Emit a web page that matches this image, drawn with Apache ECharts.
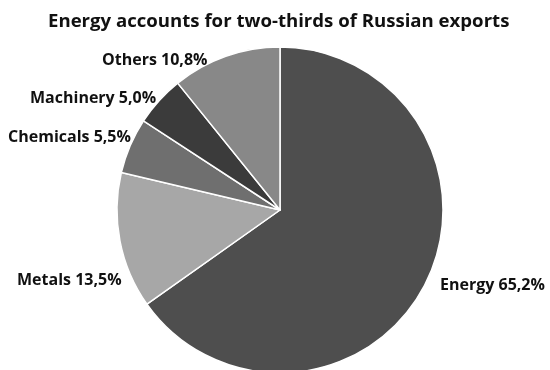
<!DOCTYPE html>
<html>
<head>
<meta charset="utf-8">
<script src="https://cdn.jsdelivr.net/npm/echarts@6/dist/echarts.min.js"></script>
<style>
  html, body { margin: 0; padding: 0; background: #fff; }
  #chart { width: 550px; height: 370px; }
</style>
</head>
<body>
<div id="chart"></div>
<script>
// Russian export structure, share of total (%)
const categories = ['Energy', 'Metals', 'Chemicals', 'Machinery', 'Others'];
const shares = [65.2, 13.5, 5.5, 5.0, 10.8];

// Slice fills and label anchors, in the same order as categories
const sliceColors = ['#4e4e4e', '#a7a7a7', '#6f6f6f', '#3b3b3b', '#888888'];
const labelAnchors = [
  { x: 440, y: 285 },
  { x: 17, y: 280 },
  { x: 8, y: 137 },
  { x: 30, y: 98 },
  { x: 102, y: 60 }
];

const fmt = v => v.toFixed(1).replace('.', ',');

const chart = echarts.init(document.getElementById('chart'), null, { renderer: 'canvas' });
chart.setOption({
  animation: false,
  title: {
    text: 'Energy accounts for two-thirds of Russian exports',
    left: 43,
    top: 7,
    textStyle: {
      fontFamily: 'Open Sans',
      fontWeight: 'bold',
      fontSize: 18.6,
      color: '#111'
    }
  },
  series: [{
    type: 'pie',
    center: [280, 210],
    radius: 163,
    startAngle: 90,
    clockwise: true,
    data: categories.map((name, i) => ({
      name,
      value: shares[i],
      itemStyle: { color: sliceColors[i] }
    })),
    itemStyle: { borderColor: '#ffffff', borderWidth: 1.5 },
    label: {
      show: true,
      position: 'outside',
      overflow: 'none',
      formatter: p => p.name + ' ' + fmt(p.value) + '%',
      fontFamily: 'Open Sans',
      fontWeight: 'bold',
      fontSize: 16,
      color: '#111'
    },
    labelLine: { show: false },
    labelLayout: params => {
      const a = labelAnchors[params.dataIndex];
      return { x: a.x, y: a.y, align: 'left', verticalAlign: 'middle' };
    },
    emphasis: { disabled: true }
  }]
});
</script>
</body>
</html>
